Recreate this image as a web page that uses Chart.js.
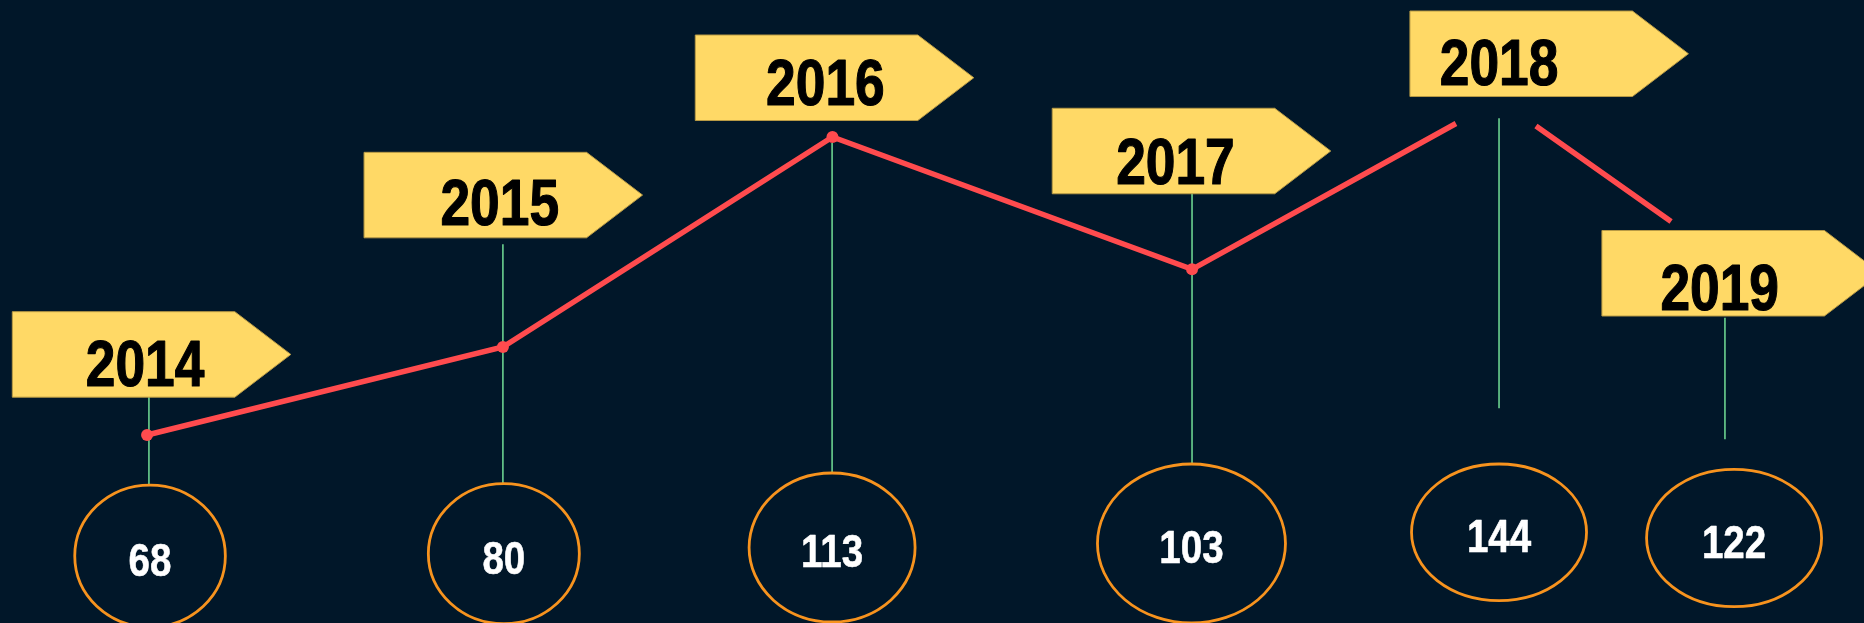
<!DOCTYPE html>
<html><head><meta charset="utf-8">
<script src="https://cdn.jsdelivr.net/npm/chart.js@4/dist/chart.umd.min.js"></script>
<style>
html,body{margin:0;padding:0;background:#011729;overflow:hidden}
#wrap{width:1864px;height:623px;position:relative}
</style>
</head><body><div id="wrap"><canvas id="c"></canvas></div>
<script>
// ---------- data ----------
const years = ['2014','2015','2016','2017','2018','2019'];
const values = [68, 80, 113, 103, 144, 122];
// horizontal position of each year on the timeline (0-100)
const yearX = [7.99, 26.98, 44.64, 63.95, 80.42, 92.54];
// red trend line: position along timeline and level (0-100); null = break in line
const trendX = [7.89, 26.98, 44.66, 63.95, 78.11, 80.42, 82.40, 89.65];
const trendLevel = [30.18, 44.30, 78.01, 56.77, 80.18, null, 79.78, 64.45];
// green drop lines (level of top and bottom end)
const stemTop = [36.28, 60.79, 77.05, 68.97, 81.01, 49.00];
const stemBottom = [22.26, 22.42, 24.16, 25.60, 34.46, 29.49];
// value bubbles (centre position and level)
const bubbleX = [8.05, 27.03, 44.64, 63.92, 80.42, 93.03];
const bubbleLevel = [10.75, 11.12, 12.12, 12.76, 14.56, 13.64];
// year tags (top-left corner) and tag text centre
const tagX = [0.66, 19.53, 37.30, 56.45, 75.64, 85.94];
const tagLevel = [49.97, 75.55, 94.38, 82.62, 98.23, 63.00];
const tagTextX = [7.78, 26.81, 44.28, 63.06, 80.42, 92.26];
const tagTextLevel = [41.78, 67.62, 86.89, 74.17, 90.02, 53.98];

// ---------- styles ----------
const BG = '#011729';
const YELLOW = '#FFD966';
const RED = '#FF4B4E';
const GREEN = '#72DE96';
const ORANGE = '#F7931E';
const FONT = "'Liberation Sans','Arimo',Arial,sans-serif";
const NARROW = 0.82; // horizontal squeeze to imitate a narrow bold face
const bubbleRx = [75.3, 75.5, 83, 94, 87.5, 87.5];
const bubbleRy = [71, 70, 74.5, 79.5, 68.3, 68.7];
const TAG_W = 222.5, TAG_ARROW = 56, TAG_H = 85.5;
const YEAR_SIZE = 65, VALUE_SIZE = 47;

const trendData = trendX.map((x, i) => ({x: x, y: trendLevel[i]}));
const stemData = [];
yearX.forEach((x, i) => {
  stemData.push({x: x, y: stemTop[i]});
  stemData.push({x: x, y: stemBottom[i]});
  stemData.push({x: x, y: null});
});

function narrowText(c, txt, cx, baseY, size, color, weight) {
  c.save();
  c.font = 'bold ' + size + 'px ' + FONT;
  c.fillStyle = color; c.strokeStyle = color; c.lineWidth = weight;
  c.lineJoin = 'round';
  c.textAlign = 'center'; c.textBaseline = 'alphabetic';
  c.translate(cx, baseY);
  c.scale(NARROW, 1);
  c.fillText(txt, 0, 0);
  if (weight > 0) c.strokeText(txt, 0, 0);
  c.restore();
}

const decor = {
  id: 'decor',
  beforeDraw(chart) {
    const c = chart.ctx;
    c.save(); c.fillStyle = BG; c.fillRect(0, 0, chart.width, chart.height); c.restore();
  },
  afterDatasetsDraw(chart) {
    const c = chart.ctx, xs = chart.scales.x, ys = chart.scales.y;
    c.save();
    // bubbles
    values.forEach((v, i) => {
      const cx = xs.getPixelForValue(bubbleX[i]);
      const cy = ys.getPixelForValue(bubbleLevel[i]);
      c.beginPath();
      c.ellipse(cx, cy, bubbleRx[i], bubbleRy[i], 0, 0, Math.PI * 2);
      c.fillStyle = BG; c.fill();
      c.lineWidth = 2.8; c.strokeStyle = ORANGE; c.stroke();
      narrowText(c, String(v), cx, cy + 3 + 0.358 * VALUE_SIZE, VALUE_SIZE, '#FFFFFF', 0.6);
    });
    // year tags
    years.forEach((yr, i) => {
      const x0 = xs.getPixelForValue(tagX[i]);
      const y0 = ys.getPixelForValue(tagLevel[i]);
      c.beginPath();
      c.moveTo(x0, y0);
      c.lineTo(x0 + TAG_W, y0);
      c.lineTo(x0 + TAG_W + TAG_ARROW, y0 + TAG_H / 2);
      c.lineTo(x0 + TAG_W, y0 + TAG_H);
      c.lineTo(x0, y0 + TAG_H);
      c.closePath();
      c.fillStyle = YELLOW; c.fill();
      c.lineWidth = 1; c.strokeStyle = '#B89A45'; c.stroke();
      const tx = xs.getPixelForValue(tagTextX[i]);
      const ty = ys.getPixelForValue(tagTextLevel[i]);
      narrowText(c, yr, tx, ty + 0.358 * YEAR_SIZE, YEAR_SIZE, '#000000', 1.2);
    });
    c.restore();
  }
};

new Chart(document.getElementById('c'), {
  type: 'line',
  data: {
    datasets: [
      {
        label: 'trend', data: trendData, order: 0,
        borderColor: RED, backgroundColor: RED, borderWidth: 5.5,
        borderJoinStyle: 'miter', borderCapStyle: 'butt',
        pointRadius: trendX.map((x, i) => i < 4 ? 6 : 0), pointBorderWidth: 0,
        pointBackgroundColor: RED, spanGaps: false, tension: 0, fill: false
      },
      {
        label: 'stems', data: stemData, order: 1,
        borderColor: GREEN, borderWidth: 1.5, pointRadius: 0,
        spanGaps: false, tension: 0, fill: false
      }
    ]
  },
  options: {
    responsive: true, maintainAspectRatio: false, animation: false,
    layout: {padding: 0, autoPadding: false},
    events: [],
    scales: {
      x: {type: 'linear', min: 0, max: 100, display: false},
      y: {type: 'linear', min: 0, max: 100, display: false}
    },
    plugins: {legend: {display: false}, tooltip: {enabled: false}}
  },
  plugins: [decor]
});
</script>
</body></html>
